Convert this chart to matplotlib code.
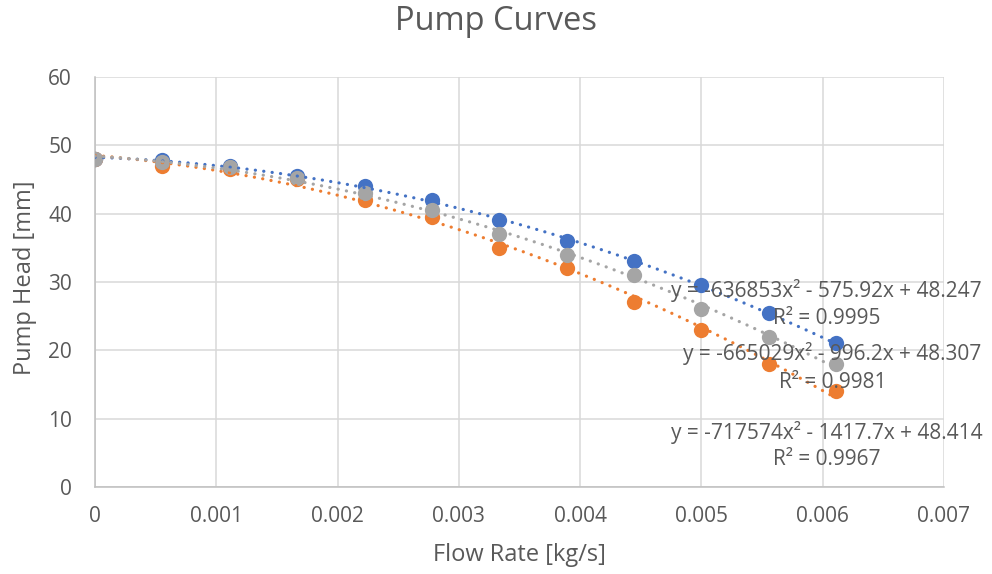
import numpy as np
import matplotlib
matplotlib.use('Agg')
import matplotlib.pyplot as plt

# flow rate [kg/s]
flow = [0, 0.000556, 0.001111, 0.001667, 0.002222, 0.002778,
        0.003333, 0.003889, 0.004444, 0.005, 0.005556, 0.006111]

# pump head [mm] for the three runs
head_blue = [48, 47.8, 47, 45.5, 44, 42, 39, 36, 33, 29.5, 25.5, 21]
head_orange = [48, 47, 46.5, 45, 42, 39.5, 35, 32, 27, 23, 18, 14]
head_gray = [48, 47.5, 46.8, 45.2, 43, 40.5, 37, 34, 31, 26, 22, 18]

eq_blue = ['y = -636853x\u00b2 - 575.92x + 48.247', 'R\u00b2 = 0.9995']
eq_gray = ['y = -665029x\u00b2 - 996.2x + 48.307', 'R\u00b2 = 0.9981']
eq_orange = ['y = -717574x\u00b2 - 1417.7x + 48.414', 'R\u00b2 = 0.9967']

x_ticks = [0, 0.001, 0.002, 0.003, 0.004, 0.005, 0.006, 0.007]
x_labels = ['0', '0.001', '0.002', '0.003', '0.004', '0.005', '0.006', '0.007']
y_ticks = [0, 10, 20, 30, 40, 50, 60]

BLUE = '#4472C4'
ORANGE = '#ED7D31'
GRAY = '#A5A5A5'
TEXT = '#595959'

plt.rcParams['font.family'] = ['Open Sans', 'DejaVu Sans']


def main():
    fig = plt.figure(figsize=(9.92, 5.74), dpi=100)
    ax = fig.add_axes([0.0958, 0.1516, 0.8558, 0.7143])

    series = [(head_blue, BLUE), (head_orange, ORANGE), (head_gray, GRAY)]

    # markers first, trendlines over them
    for y, c in series:
        ax.plot(flow, y, 'o', color=c, markersize=11, zorder=3,
                markeredgewidth=0)
    xs = np.linspace(flow[0], flow[-1], 200)
    for y, c in series:
        coef = np.polyfit(flow, y, 2)
        ax.plot(xs, np.polyval(coef, xs), color=c, linewidth=2.3,
                linestyle=(0, (0.05, 2.6)), dash_capstyle='round', zorder=4)

    # trendline labels
    for (eq, r2), (xc, ye, yr) in zip(
            [eq_blue, eq_gray, eq_orange],
            [(0.00603, 28.8, 24.6), (0.00608, 19.6, 15.3),
             (0.00603, 7.9, 4.0)]):
        ax.text(xc, ye, eq, ha='center', va='center', fontsize=15,
                color=TEXT, zorder=5)
        ax.text(xc, yr, r2, ha='center', va='center', fontsize=15,
                color=TEXT, zorder=5)

    ax.set_xlim(0, 0.007)
    ax.set_ylim(0, 60)
    ax.set_xticks(x_ticks)
    ax.set_xticklabels(x_labels)
    ax.set_yticks(y_ticks)
    ax.tick_params(length=0, labelsize=15, labelcolor=TEXT)
    ax.tick_params(axis='x', pad=14)
    ax.tick_params(axis='y', pad=16.5)
    ax.grid(True, color='#D9D9D9', linewidth=1.1)
    ax.set_axisbelow(True)
    for s in ['top', 'right']:
        ax.spines[s].set_visible(False)
    for s in ['left', 'bottom']:
        ax.spines[s].set_color('#BFBFBF')
        ax.spines[s].set_linewidth(1.1)

    xl = ax.set_xlabel('Flow Rate [kg/s]', fontsize=17, color=TEXT)
    xl.set_va('center')
    ax.xaxis.set_label_coords(0.5, -0.166)
    yl = ax.set_ylabel('Pump Head [mm]', fontsize=17, color=TEXT)
    yl.set_va('center')
    ax.yaxis.set_label_coords(-0.082, 0.51)
    fig.suptitle('Pump Curves', fontsize=23.5, color=TEXT, y=0.962,
                 va='center')

    fig.savefig('out.png', dpi=100)


if __name__ == "__main__":
    main()
